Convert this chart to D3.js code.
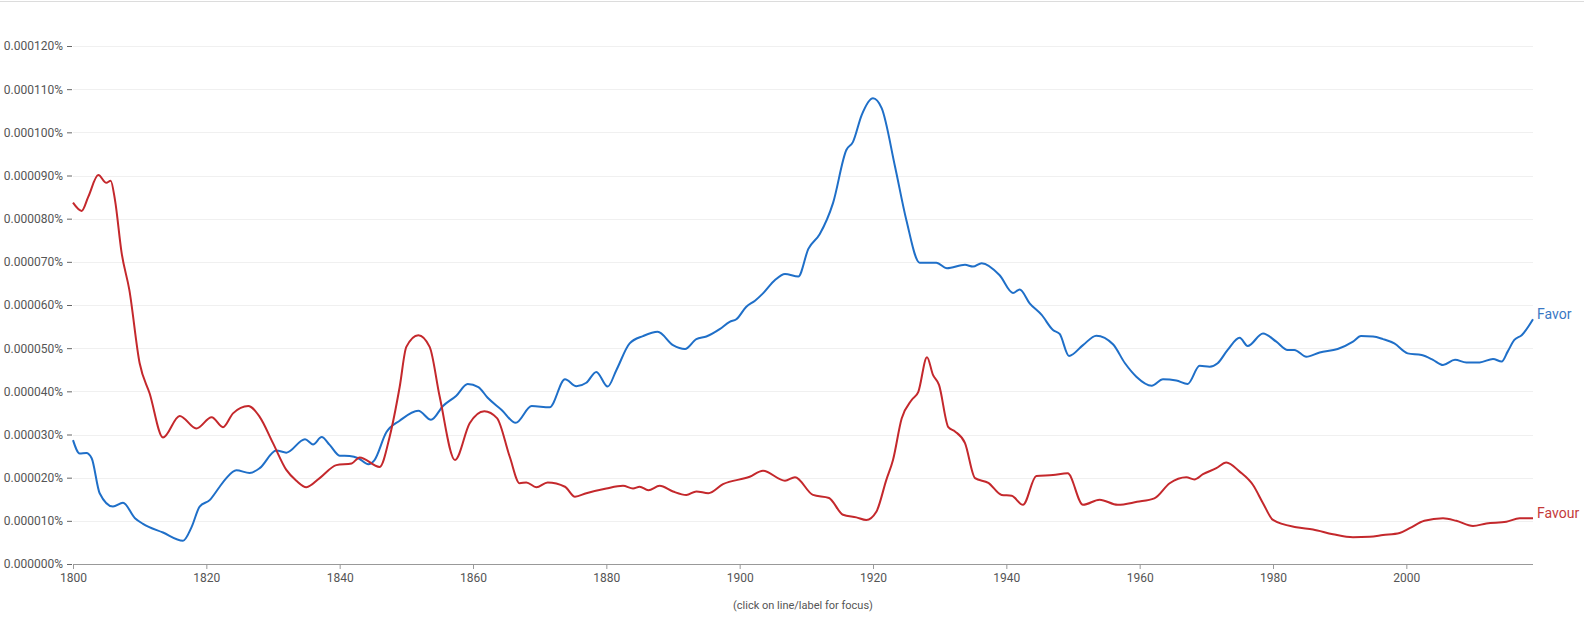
<!DOCTYPE html>
<html>
<head>
<meta charset="utf-8">
<script src="https://cdn.jsdelivr.net/npm/d3@7"></script>
<style>
  html, body { margin: 0; padding: 0; background: #fff; }
  svg { display: block; font-family: Roboto, "Open Sans", sans-serif; }
</style>
</head>
<body>
<svg id="chart" width="1584" height="641"></svg>
<script>
// Values are in units of 0.000001 %
const yTicks = [0, 10, 20, 30, 40, 50, 60, 70, 80, 90, 100, 110, 120];
const xTicks = [1800, 1820, 1840, 1860, 1880, 1900, 1920, 1940, 1960, 1980, 2000];
const seriesNames = ["Favor", "Favour"];

const favorYears = [1800,1801,1802,1802.8,1804,1806,1807.5,1809.3,1810.5,1813.5,1816.5,1817.8,1819,1820.5,1822,1823,1824.5,1826.5,1828,1830.5,1832,1834.8,1836,1837.3,1838.5,1840,1841.5,1842.8,1844.3,1845.2,1847,1849,1851.8,1853.7,1855.5,1857.5,1859.2,1860.8,1862.2,1864.3,1866.4,1868.8,1871.5,1873.8,1875.5,1877,1878.5,1880.2,1881.5,1883.5,1885.5,1887.7,1890,1891.8,1893.5,1895,1897,1898.5,1899.5,1901,1902.3,1903.5,1905.3,1906.8,1908.8,1910.3,1912,1914,1916,1917,1918.3,1920,1921.3,1923.3,1925,1927,1929.5,1931.1,1933.8,1935,1936.3,1939,1941,1942,1943.5,1945.3,1947,1948,1949.4,1951.5,1953.5,1956,1957.8,1959.5,1961.8,1963.5,1965.5,1967.2,1969,1970.5,1971.7,1973.2,1975,1976.2,1978.5,1980.5,1982.2,1983.2,1985,1987,1989.7,1992,1993.2,1995,1996.5,1998.2,2000.2,2002.3,2004,2005.5,2007.3,2009,2011,2013,2014.3,2015.2,2016.2,2017.3,2019];
const favorValues = [28.7,25.6,25.7,24.5,16.4,13.3,14.2,10.6,9.3,7.3,5.4,8.6,13.3,14.8,17.9,19.9,21.7,21.1,22.2,26.3,25.8,28.9,27.7,29.4,27.6,25.1,25,24.5,23.1,24,30.5,33.2,35.5,33.4,36.6,39,41.7,41,38.5,35.7,32.7,36.6,36.3,42.8,41.2,42,44.5,41.1,44.9,51.1,52.8,53.8,50.7,49.8,52.1,52.7,54.4,56.1,56.7,59.6,61,62.7,65.8,67.2,66.6,73,76.4,83.6,95.9,97.8,104,107.9,105.6,92.1,79.7,69.8,69.8,68.5,69.3,68.9,69.7,66.9,62.8,63.6,60.4,57.7,54.2,53.3,48.2,50.7,52.9,50.9,46.5,43.4,41.3,42.8,42.5,41.7,45.9,45.7,46.5,49.6,52.4,50.5,53.4,51.5,49.6,49.6,48,49,49.8,51.5,52.8,52.7,52.1,51.1,48.8,48.4,47.3,46.1,47.3,46.7,46.7,47.5,46.9,49.2,51.9,53,56.7];

const favourYears = [1800,1801.3,1802.3,1803.8,1805,1805.65,1806.3,1807.3,1808.45,1810,1811.5,1813.5,1816,1818.5,1820.8,1822.5,1824,1826.3,1828,1830,1832,1833.5,1835,1837,1839.5,1841.8,1843,1846,1847.5,1849,1850,1851.8,1853.5,1855,1857.3,1859.5,1861.7,1863.6,1865.5,1867,1868,1869.5,1871.2,1873.8,1875.3,1877,1880,1882.5,1884,1885,1886.3,1888,1890,1892,1893.5,1895.3,1897.5,1901.5,1903.5,1906.8,1908.3,1911,1913.4,1915.5,1917.5,1919,1920.5,1922,1923,1924.3,1925.8,1926.8,1928.1,1929,1929.9,1931.3,1932.3,1933.8,1935.3,1937.3,1939.3,1940.8,1942.5,1944.5,1947,1949.2,1951.5,1954,1956.7,1959.6,1962.2,1964.5,1967,1968.2,1969.5,1971.5,1973,1975,1977,1978.5,1980,1983.5,1986,1989,1992,1994.5,1996.5,1999,2000.5,2002.7,2005.5,2007.5,2010,2012,2015,2017,2019];
const favourValues = [83.7,81.8,85.1,90.1,88.3,88.8,84.3,72,63.5,46.5,39.5,29.3,34.3,31.4,34,31.7,34.9,36.6,34.1,28,21.8,19.3,17.8,19.9,22.9,23.3,24.7,22.5,29.5,41,50.3,53,50.3,38.8,24.1,32.6,35.4,33.8,24.9,18.7,18.9,17.8,18.9,17.9,15.6,16.4,17.5,18.1,17.5,17.9,17.1,18.1,16.8,16,16.8,16.4,18.5,20.2,21.6,19.3,20.1,16,15.3,11.4,10.8,10.2,12.1,19.5,24.1,33.7,38,39.9,47.9,43.8,41.5,31.7,30.7,28,19.9,18.8,16,15.8,13.7,20.4,20.6,21,13.7,14.9,13.7,14.4,15.2,18.7,20.1,19.6,20.8,22.2,23.5,21.4,18.3,14.1,10.2,8.5,8,6.9,6.2,6.3,6.7,7.2,8.3,10,10.6,10,8.8,9.4,9.8,10.6,10.6];

const colors = { "Favor": "#1f6fc8", "Favour": "#c4282c" };
const labelColors = { "Favor": "#3a78c4", "Favour": "#c43a3a" };

const svg = d3.select("#chart");
const mLeft = 73, mRight = 1533, mTop = 46, mBottom = 564;

const x = d3.scaleLinear().domain([1800, 2019]).range([mLeft, mRight]);
const y = d3.scaleLinear().domain([0, 120]).range([mBottom, mTop]);

// top border
svg.append("line").attr("x1", 0).attr("x2", 1584).attr("y1", 1.5).attr("y2", 1.5)
  .attr("stroke", "#dcdcdc").attr("stroke-width", 1);

// gridlines
svg.append("g")
  .selectAll("line").data(yTicks.filter(d => d > 0)).join("line")
  .attr("x1", mLeft).attr("x2", mRight)
  .attr("y1", d => Math.round(y(d)) + 0.5).attr("y2", d => Math.round(y(d)) + 0.5)
  .attr("stroke", "#f0f0f0").attr("stroke-width", 1);

// y axis
const yAxis = svg.append("g").attr("transform", `translate(${mLeft - 1},0)`)
  .call(d3.axisLeft(y).tickValues(yTicks).tickSize(5).tickPadding(4)
    .tickFormat(d => (d / 1e6).toFixed(6) + "%"));
yAxis.select(".domain").remove();
yAxis.selectAll(".tick line").attr("stroke", "#666");
yAxis.selectAll(".tick text").attr("fill", "#555").style("font-size", "12px")
  .style("font-family", "Roboto, sans-serif");

// x axis
const xAxis = svg.append("g").attr("transform", `translate(0,${mBottom})`)
  .call(d3.axisBottom(x).tickValues(xTicks).tickSize(5).tickPadding(4).tickFormat(d3.format("d")));
xAxis.select(".domain").attr("stroke", "#999").attr("d", `M${mLeft},0.5H${mRight}`);
xAxis.selectAll(".tick line").attr("stroke", "#999");
xAxis.selectAll(".tick text").attr("fill", "#555").style("font-size", "12px")
  .style("font-family", "Roboto, sans-serif");

// caption
svg.append("text").attr("x", (mLeft + mRight) / 2).attr("y", 609)
  .attr("text-anchor", "middle").attr("fill", "#555")
  .style("font-size", "11px").text("(click on line/label for focus)");

const line = d3.line().x(d => x(d[0])).y(d => y(d[1])).curve(d3.curveMonotoneX);

const data = {
  "Favor": favorYears.map((yr, i) => [yr, favorValues[i]]),
  "Favour": favourYears.map((yr, i) => [yr, favourValues[i]])
};

seriesNames.forEach(name => {
  svg.append("path").datum(data[name])
    .attr("fill", "none").attr("stroke", colors[name]).attr("stroke-width", 2)
    .attr("stroke-linejoin", "round").attr("d", line);
  const last = data[name][data[name].length - 1];
  svg.append("text").attr("x", x(last[0]) + 4).attr("y", y(last[1]) - 5)
    .attr("dy", "0.35em")
    .attr("fill", labelColors[name]).style("font-size", "14px").text(name);
});
</script>
</body>
</html>
